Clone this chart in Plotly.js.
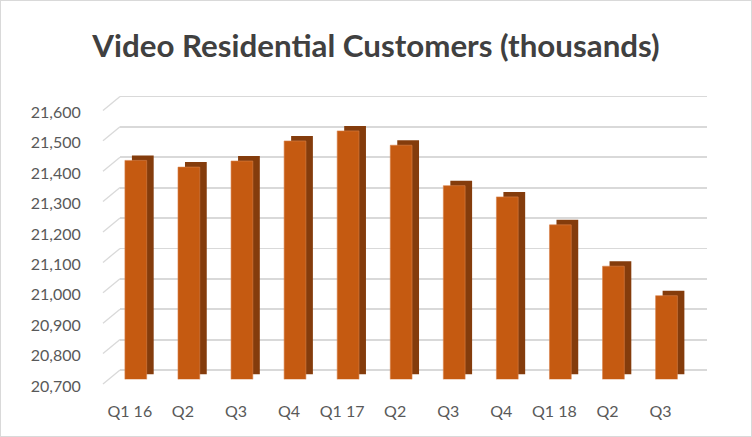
<!DOCTYPE html>
<html>
<head>
<meta charset="utf-8">
<script src="https://cdn.plot.ly/plotly-3.0.1.min.js"></script>
<style>
  body { margin: 0; background: #fff; }
  #wrap { position: relative; width: 752px; height: 437px; }
  #chart_area { width: 752px; height: 437px; }
  #frame { position: absolute; left: 0; top: 0; width: 752px; height: 437px;
           box-sizing: border-box; border: 1px solid #d9d9d9; pointer-events: none; }
</style>
</head>
<body>
<div id="wrap"><div id="chart_area"></div><div id="frame"></div></div>
<script>
var quarters = ['Q1 16', 'Q2', 'Q3', 'Q4', 'Q1 17', 'Q2', 'Q3', 'Q4', 'Q1 18', 'Q2', 'Q3'];
var customers = [21420, 21398, 21418, 21484, 21517, 21470, 21337, 21300, 21208, 21072, 20975];
var yTicks = [20700, 20800, 20900, 21000, 21100, 21200, 21300, 21400, 21500, 21600];
var yTickText = ['20,700', '20,800', '20,900', '21,000', '21,100', '21,200', '21,300', '21,400', '21,500', '21,600'];

// fake 3d: pixel geometry of the Excel-style box
var W = 752, T = 60, B = 37, H = 437 - T - B;   // plot area 60..400 px
var pxPer = 0.304;          // px per customer unit
var pxCat = 53.07;          // px between bars
var bar0 = 135.8;           // px centre of first front face
var baseFront = 379.3, depthX = 7, depthY = 5;
var gridBase = 370, gridLeft = 120, gridRight = 707, wallDrop = 14, wallLeft = 103;
var labelDrop = 16;

var idx = quarters.map(function (q, i) { return i; });

function catRange(centerPx) {
  var a = -centerPx / pxCat;
  return [a, a + W / pxCat];
}
function valRange(basePx) {
  // domain bottom sits on basePx, so bars stop at 20,700 there
  return { domain: [(T + H - basePx) / H, 1],
           range: [yTicks[0], yTicks[0] + (basePx - T) / pxPer] };
}

// back wall: carries gridlines and the quarter labels
var back = {
  type: 'scatter', mode: 'markers', x: idx, y: customers,
  marker: { opacity: 0 }, xaxis: 'x', yaxis: 'y', hoverinfo: 'skip'
};
// side/top faces: dark copy of bars, shifted right and up
var side = {
  type: 'bar', x: idx, y: customers, width: 0.41,
  marker: { color: '#843c0c', line: { width: 0 } },
  xaxis: 'x2', yaxis: 'y2', hoverinfo: 'skip'
};
var front = {
  type: 'bar', x: idx, y: customers, width: 0.41,
  marker: { color: '#c55a11', line: { width: 0.6, color: '#d9824a' } },
  xaxis: 'x3', yaxis: 'y3', hovertemplate: '%{y:,}<extra></extra>'
};

// left wall lines, from front edge up to each back gridline
var wx = [], wy = [];
yTicks.forEach(function (t) {
  wx.push(wallLeft, gridLeft, null);
  wy.push(t + (labelDrop - wallDrop) / pxPer, t + labelDrop / pxPer, null);
});
var wall = {
  type: 'scatter', mode: 'lines', x: wx, y: wy,
  line: { color: '#d9d9d9', width: 1.3 },
  xaxis: 'x4', yaxis: 'y4', hoverinfo: 'skip', showlegend: false
};

var gridLo = yTicks[0] - (T + H - gridBase) / pxPer;
var labLo = yTicks[0] - (T + H - gridBase - labelDrop) / pxPer;
var r2 = valRange(baseFront - depthY);
var r3 = valRange(baseFront);
var x0 = -(bar0 - 6 - gridLeft) / pxCat;

var axFont = { family: 'Lato, "Open Sans", sans-serif', size: 16, color: '#595959' };

var layout = {
  width: W, height: 437,
  margin: { l: 0, r: 0, t: T, b: B },
  paper_bgcolor: '#fff', plot_bgcolor: 'rgba(0,0,0,0)',
  showlegend: false,
  title: {
    text: '<b>Video Residential Customers (thousands)</b>',
    font: { family: 'Lato, "Open Sans", sans-serif', size: 31.3, color: '#404040' },
    x: 0.5, xanchor: 'center', y: 1 - 46 / 437, yanchor: 'middle', yref: 'container'
  },
  xaxis: {
    domain: [gridLeft / W, gridRight / W],
    range: [x0, x0 + (gridRight - gridLeft) / pxCat],
    tickvals: idx, ticktext: quarters, ticks: '', showgrid: false, zeroline: false,
    showline: false, tickfont: axFont, anchor: 'y'
  },
  yaxis: {
    domain: [0, 1], range: [gridLo, gridLo + H / pxPer],
    tickvals: yTicks, showticklabels: false, ticks: '',
    showgrid: true, gridcolor: '#d9d9d9', gridwidth: 1.8, zeroline: false, anchor: 'x'
  },
  xaxis2: { domain: [0, 1], range: catRange(bar0 + depthX), visible: false, anchor: 'y2' },
  yaxis2: { domain: r2.domain, range: r2.range, visible: false, anchor: 'x2' },
  xaxis3: { domain: [0, 1], range: catRange(bar0), visible: false, anchor: 'y3' },
  yaxis3: { domain: r3.domain, range: r3.range, visible: false, anchor: 'x3' },
  xaxis4: { domain: [0, 1], range: [0, W], visible: false, anchor: 'y4' },
  yaxis4: {
    domain: [0, 1], range: [labLo, labLo + H / pxPer],
    anchor: 'free', position: 86 / W,
    tickvals: yTicks, ticktext: yTickText, ticks: 'outside', ticklen: 2,
    tickcolor: 'rgba(0,0,0,0)', showgrid: false, zeroline: false, showline: false,
    tickfont: axFont
  }
};

Plotly.newPlot('chart_area', [back, side, front, wall], layout, { displayModeBar: false, staticPlot: true });
</script>
</body>
</html>
